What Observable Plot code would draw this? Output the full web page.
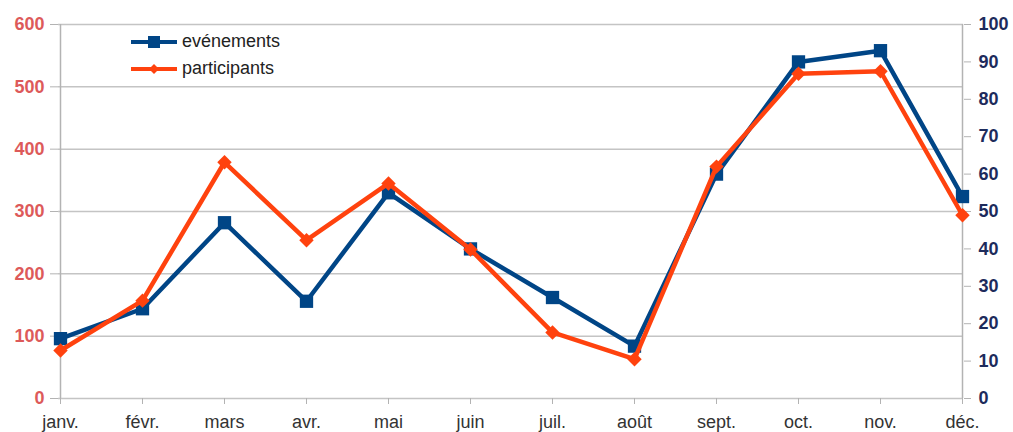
<!DOCTYPE html>
<html>
<head>
<meta charset="utf-8">
<script src="https://cdn.jsdelivr.net/npm/d3@7"></script>
<script src="https://cdn.jsdelivr.net/npm/@observablehq/plot@0.6"></script>
<style>
  html, body { margin: 0; padding: 0; background: #fff; }
  #wrap { position: relative; width: 1013px; height: 432px; overflow: hidden; font-family: "Liberation Sans", Arial, sans-serif; }
  #legend { position: absolute; left: 131px; top: 28px; font-size: 18px; color: #222; line-height: 27px; }
  #legend .item { display: flex; align-items: center; }
  #legend svg { margin-right: 5px; }
</style>
</head>
<body>
<div id="wrap"><div id="legend"></div></div>
<script>
const months = ["janv.", "févr.", "mars", "avr.", "mai", "juin", "juil.", "août", "sept.", "oct.", "nov.", "déc."];
const evenements = [16, 24, 47, 26, 55, 40, 27, 14, 60, 90, 93, 54];           // right axis (0–100)
const participants = [77, 157, 379, 254, 345, 239, 106, 63, 372, 521, 525, 294]; // left axis (0–600)
const leftTicks = [0, 100, 200, 300, 400, 500, 600];
const rightTicks = [0, 10, 20, 30, 40, 50, 60, 70, 80, 90, 100];
const seriesNames = ["evénements", "participants"];
const seriesColors = ["#004586", "#ff420e"];

const ratio = 600 / 100;
const evRows = months.map((m, i) => ({month: m, v: evenements[i] * ratio}));
const paRows = months.map((m, i) => ({month: m, v: participants[i]}));

const axisColor = "#b3b3b3";

const chart = Plot.plot({
  width: 1013,
  height: 432,
  marginLeft: 58,
  marginRight: 50,
  marginTop: 24,
  marginBottom: 34,
  style: {fontFamily: "'Liberation Sans', Arial, sans-serif", background: "transparent"},
  x: {type: "point", domain: months, padding: 0},
  y: {domain: [0, 600]},
  marks: [
    Plot.gridY(leftTicks, {stroke: "#c4c4c4", strokeOpacity: 1, strokeWidth: 1.5}),
    Plot.ruleX([months[0], months[months.length - 1]], {stroke: axisColor, strokeWidth: 1.5}),
    Plot.axisX({ticks: months, tickSize: 6, tickPadding: 11, stroke: axisColor, fontSize: 18, fill: "#333", label: null}),
    Plot.axisY({ticks: leftTicks, anchor: "left", tickSize: 8, tickPadding: 6, stroke: axisColor, fontSize: 18, fontWeight: "bold", fill: "#dd5a5a", label: null}),
    Plot.axisY({ticks: rightTicks.map(d => d * ratio), anchor: "right", tickSize: 7, tickPadding: 8, stroke: axisColor, fontSize: 18, fontWeight: "bold", fill: "#1d2b5c", tickFormat: d => Math.round(d / ratio), label: null}),
    Plot.line(evRows, {x: "month", y: "v", stroke: seriesColors[0], strokeWidth: 4.5}),
    Plot.dot(evRows, {x: "month", y: "v", symbol: "square", r: 7.5, fill: seriesColors[0], stroke: null}),
    Plot.line(paRows, {x: "month", y: "v", stroke: seriesColors[1], strokeWidth: 4.5}),
    Plot.dot(paRows, {x: "month", y: "v", symbol: "diamond2", r: 6.5, fill: seriesColors[1], stroke: null})
  ]
});
document.getElementById("wrap").prepend(chart);

const legend = document.getElementById("legend");
const symbols = ["square", "diamond"];
seriesNames.forEach((name, i) => {
  const item = document.createElement("div");
  item.className = "item";
  const marker = symbols[i] === "square"
    ? `<rect x="17" y="6" width="12" height="12" fill="${seriesColors[i]}"/>`
    : `<polygon points="23,7 28,12 23,17 18,12" fill="${seriesColors[i]}"/>`;
  item.innerHTML = `<svg width="46" height="24"><line x1="0" y1="12" x2="46" y2="12" stroke="${seriesColors[i]}" stroke-width="4"/>${marker}</svg><span>${name}</span>`;
  legend.appendChild(item);
});
</script>
</body>
</html>
